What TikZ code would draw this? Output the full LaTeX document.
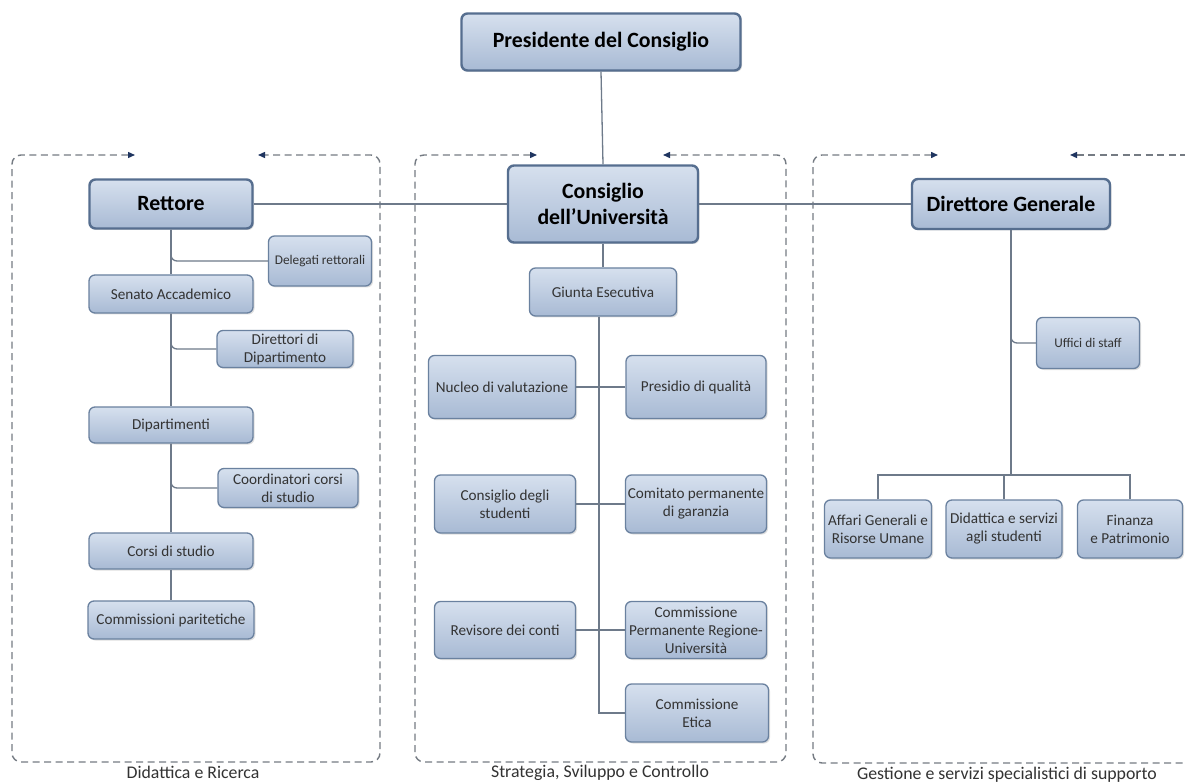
\documentclass[tikz,border=0pt]{standalone}
\usepackage{fontspec}
\setmainfont{Carlito}
\usetikzlibrary{arrows.meta,shadows}
\definecolor{boxtop}{HTML}{D6E0EE}
\definecolor{boxbot}{HTML}{A8BAD4}
\definecolor{boxborder}{HTML}{6A819F}
\definecolor{bigborder}{HTML}{566E8F}
\definecolor{txt}{HTML}{333333}
\definecolor{lncol}{HTML}{6E7A8A}
\definecolor{dashcol}{HTML}{757B83}
\definecolor{tipcol}{HTML}{1F3560}
\definecolor{lblcol}{HTML}{333333}
\tikzset{
  box/.style={draw=boxborder, line width=1.3pt, rounded corners=6pt, top color=boxtop, bottom color=boxbot,
    align=center, inner sep=0pt, text=txt, font=\fontsize{15.2}{18}\selectfont,
    drop shadow={opacity=0.25, shadow xshift=1.5pt, shadow yshift=-1.5pt}},
  bigbox/.style={box, draw=bigborder, line width=2.4pt, text=black, font=\bfseries\fontsize{21.8}{26}\selectfont},
  conn/.style={draw=lncol, line width=1.3pt},
  grp/.style={draw=dashcol, line width=1.4pt, dash pattern=on 7pt off 4.5pt, rounded corners=9pt},
  tips/.style={{Triangle[length=7pt,width=6pt,color=tipcol]}-{Triangle[length=7pt,width=6pt,color=tipcol]}},
  grplabel/.style={text=lblcol, font=\fontsize{17.8}{20}\selectfont, inner sep=0pt, anchor=base},
}
\begin{document}
\begin{tikzpicture}[x=1pt,y=-1pt]
\useasboundingbox[fill=white] (0,0) rectangle (1185,783);

% group frames
\draw[grp,tips] (135,155) -- (12,155) -- (12,762) -- (380,762) -- (380,155) -- (258,155);
\draw[grp,tips] (537,155) -- (415,155) -- (415,762) -- (786,762) -- (786,155) -- (663,155);
\draw[grp,{Triangle[length=7pt,width=6pt,color=tipcol]}-] (938,155) -- (813,155) -- (813,763) -- (1190,763);
\draw[grp,{Triangle[length=7pt,width=6pt,color=tipcol]}-] (1070,155) -- (1190,155);

\node[grplabel] (lab1) at (193,778) {Didattica e Ricerca};
\node[grplabel] (lab2) at (600,777) {Strategia, Sviluppo e Controllo};
\node[grplabel] (lab3) at (1007,779) {Gestione e servizi specialistici di supporto};

% top
\node[bigbox, minimum width=279pt, minimum height=57pt] (pres) at (601,42) {Presidente del Consiglio};
\node[bigbox, minimum width=190pt, minimum height=77pt] (cons) at (603,204) {Consiglio\\dell’Università};
\node[bigbox, minimum width=163pt, minimum height=49pt] (rett) at (171,204) {Rettore};
\node[bigbox, minimum width=198pt, minimum height=50pt] (dg) at (1011,204) {Direttore Generale};

% left column
\node[box, minimum width=103pt, minimum height=50pt, font=\fontsize{13.3}{15}\selectfont] (deleg) at (320,261) {Delegati rettorali};
\node[box, minimum width=164pt, minimum height=38pt] (senato) at (171,294) {Senato Accademico};
\node[box, minimum width=136pt, minimum height=37pt] (dirdip) at (285,349) {Direttori di\\Dipartimento};
\node[box, minimum width=164pt, minimum height=36pt] (dip) at (171,425) {Dipartimenti};
\node[box, minimum width=140pt, minimum height=39pt] (coord) at (288,488) {Coordinatori corsi\\di studio};
\node[box, minimum width=164pt, minimum height=36pt] (corsi) at (171,551) {Corsi di studio};
\node[box, minimum width=166pt, minimum height=38pt] (commpar) at (171,620) {Commissioni paritetiche};

% middle column
\node[box, minimum width=147pt, minimum height=48pt] (giunta) at (603,292) {Giunta Esecutiva};
\node[box, minimum width=147pt, minimum height=63pt] (nucleo) at (502,387) {Nucleo di valutazione};
\node[box, minimum width=140pt, minimum height=63pt] (presidio) at (696,387) {Presidio di qualità};
\node[box, minimum width=141pt, minimum height=58pt] (cstud) at (505,504) {Consiglio degli\\studenti};
\node[box, minimum width=141pt, minimum height=58pt] (comit) at (696,504) {Comitato permanente\\di garanzia};
\node[box, minimum width=141pt, minimum height=57pt] (revis) at (505,630) {Revisore dei conti};
\node[box, minimum width=141pt, minimum height=57pt] (cprg) at (696,630) {Commissione\\Permanente Regione-\\Università};
\node[box, minimum width=143pt, minimum height=58pt] (etica) at (697,713) {Commissione\\Etica};

% right column
\node[box, minimum width=103pt, minimum height=51pt, font=\fontsize{13.3}{15}\selectfont] (uffici) at (1088,343) {Uffici di staff};
\node[box, minimum width=107pt, minimum height=58pt] (affari) at (878,529) {Affari Generali e\\Risorse Umane};
\node[box, minimum width=116pt, minimum height=58pt] (didat) at (1004,529) {Didattica e servizi\\agli studenti};
\node[box, minimum width=105pt, minimum height=58pt] (fin) at (1130,529) {Finanza\\e Patrimonio};

% connectors
\draw[conn] (pres.south) -- (cons.north);
\draw[conn] (rett.east) -- (cons.west);
\draw[conn] (cons.east) -- (dg.west);

\draw[conn] (rett.south) -- (senato.north);
\draw[conn] (senato.south) -- (dip.north);
\draw[conn] (dip.south) -- (corsi.north);
\draw[conn] (corsi.south) -- (commpar.north);
\draw[conn, rounded corners=6pt] (rett.south) -- (rett.south |- deleg.west) -- (deleg.west);
\draw[conn, rounded corners=6pt] (senato.south) -- (senato.south |- dirdip.west) -- (dirdip.west);
\draw[conn, rounded corners=6pt] (dip.south) -- (dip.south |- coord.west) -- (coord.west);

\draw[conn] (cons.south) -- (giunta.north);
\coordinate (gs) at ([xshift=-4pt]giunta.south);
\draw[conn] (gs) -- (gs |- etica.west) -- (etica.west);
\draw[conn] (nucleo.east) -- (presidio.west);
\draw[conn] (cstud.east) -- (comit.west);
\draw[conn] (revis.east) -- (cprg.west);

\coordinate (bar) at (dg.south |- 0,475);
\draw[conn] (dg.south) -- (bar) -- (bar -| didat.north) -- (didat.north);
\draw[conn] (affari.north) |- (bar) -| (fin.north);
\draw[conn, rounded corners=6pt] (dg.south) -- (dg.south |- uffici.west) -- (uffici.west);
\end{tikzpicture}
\end{document}
